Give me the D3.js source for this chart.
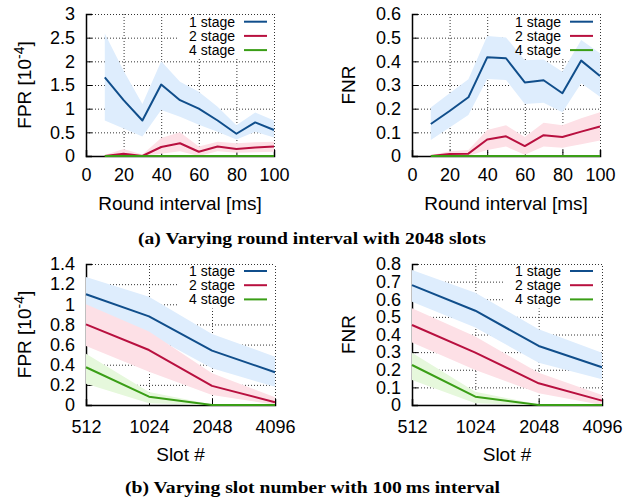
<!DOCTYPE html>
<html><head><meta charset="utf-8">
<script src="https://cdn.jsdelivr.net/npm/d3@7"></script>
<style>body{margin:0;background:#fff}svg{display:block}</style>
</head><body>
<svg id="c" width="626" height="501"></svg>
<script>
// ---------- data ----------
const seriesNames = ["1 stage", "2 stage", "4 stage"];

const roundX = [10, 20, 30, 40, 50, 60, 70, 80, 90, 100];
const roundTicks = [0, 20, 40, 60, 80, 100];

const fprR1   = [1.66, 1.18, 0.75, 1.51, 1.18, 1.00, 0.75, 0.47, 0.71, 0.55];
const fprR1Hi = [2.59, 1.80, 1.10, 2.00, 1.57, 1.36, 1.04, 0.65, 0.92, 0.75];
const fprR1Lo = [0.75, 0.58, 0.41, 0.97, 0.83, 0.66, 0.51, 0.35, 0.51, 0.39];
const fprR2   = [0, 0.05, 0, 0.19, 0.27, 0.09, 0.20, 0.15, 0.18, 0.20];
const fprR2Hi = [0.02, 0.15, 0.03, 0.38, 0.50, 0.20, 0.30, 0.27, 0.29, 0.30];
const fprR2Lo = [0, 0, 0, 0.05, 0.10, 0, 0.10, 0.07, 0.08, 0.09];
const fprR4   = [0, 0, 0, 0, 0, 0, 0, 0, 0, 0];
const fprR4Hi = [0, 0, 0, 0, 0, 0, 0, 0, 0, 0];
const fprR4Lo = [0, 0, 0, 0, 0, 0, 0, 0, 0, 0];
const fprRTicks = [0, 0.5, 1, 1.5, 2, 2.5, 3];

const fnrR1   = [0.135, 0.19, 0.248, 0.417, 0.413, 0.311, 0.32, 0.265, 0.403, 0.338];
const fnrR1Hi = [0.205, 0.265, 0.324, 0.507, 0.501, 0.405, 0.408, 0.356, 0.49, 0.434];
const fnrR1Lo = [0.068, 0.12, 0.173, 0.325, 0.321, 0.22, 0.225, 0.185, 0.307, 0.25];
const fnrR2   = [0, 0.008, 0.01, 0.07, 0.083, 0.042, 0.088, 0.08, 0.103, 0.125];
const fnrR2Hi = [0.003, 0.02, 0.025, 0.11, 0.13, 0.08, 0.14, 0.13, 0.16, 0.185];
const fnrR2Lo = [0, 0, 0, 0.025, 0.04, 0.005, 0.04, 0.035, 0.05, 0.065];
const fnrR4   = [0, 0, 0, 0, 0, 0, 0, 0, 0, 0];
const fnrR4Hi = [0, 0, 0, 0, 0, 0, 0, 0, 0, 0];
const fnrR4Lo = [0, 0, 0, 0, 0, 0, 0, 0, 0, 0];
const fnrRTicks = [0, 0.1, 0.2, 0.3, 0.4, 0.5, 0.6];

const slotX = [512, 1024, 2048, 4096];

const fprS1   = [1.10, 0.88, 0.54, 0.325];
const fprS1Hi = [1.27, 1.075, 0.705, 0.48];
const fprS1Lo = [0.95, 0.705, 0.365, 0.18];
const fprS2   = [0.80, 0.546, 0.19, 0.027];
const fprS2Hi = [1.0, 0.73, 0.315, 0.076];
const fprS2Lo = [0.585, 0.33, 0.10, 0.003];
const fprS4   = [0.375, 0.083, 0, 0];
const fprS4Hi = [0.51, 0.13, 0.005, 0];
const fprS4Lo = [0.21, 0.017, 0, 0];
const fprSTicks = [0, 0.2, 0.4, 0.6, 0.8, 1, 1.2, 1.4];

const fnrS1   = [0.68, 0.535, 0.335, 0.214];
const fnrS1Hi = [0.766, 0.637, 0.43, 0.297];
const fnrS1Lo = [0.586, 0.44, 0.24, 0.146];
const fnrS2   = [0.454, 0.297, 0.123, 0.025];
const fnrS2Hi = [0.549, 0.388, 0.183, 0.057];
const fnrS2Lo = [0.354, 0.199, 0.066, 0];
const fnrS4   = [0.227, 0.047, 0, 0];
const fnrS4Hi = [0.297, 0.075, 0.003, 0];
const fnrS4Lo = [0.142, 0.01, 0, 0];
const fnrSTicks = [0, 0.1, 0.2, 0.3, 0.4, 0.5, 0.6, 0.7, 0.8];

const captionA = "(a) Varying round interval with 2048 slots";
const captionB = "(b) Varying slot number with 100\u2009ms interval";

// ---------- styling ----------
const lineColors = ["#104e8b", "#b8103f", "#3a9e16"];
const bandColors = ["#deedfd", "#fde0e6", "#e6f8dc"];
const SANS = "'Liberation Sans', Arial, Helvetica, sans-serif";

const svg = d3.select("#c");

function panel(p) {
  const g = svg.append("g").attr("font-family", SANS);
  const x = (p.log ? d3.scaleLog().base(2) : d3.scaleLinear()).domain(p.xDomain).range([p.left, p.right]);
  const y = d3.scaleLinear().domain(p.yDomain).range([p.bottom, p.top]);
  const W = p.right - p.left, H = p.bottom - p.top;

  // grid
  const gx = g.append("g").attr("transform", `translate(0,${p.bottom})`)
    .call(d3.axisBottom(x).tickValues(p.xTicks.filter(t => t !== p.xDomain[0])).tickSize(-H).tickFormat(""));
  const gy = g.append("g").attr("transform", `translate(${p.left},0)`)
    .call(d3.axisLeft(y).tickValues(p.yTicks.filter(t => t !== 0)).tickSize(-W).tickFormat(""));
  [gx, gy].forEach(a => {
    a.select(".domain").remove();
    a.selectAll("line").attr("stroke", "#333").attr("stroke-width", 1).attr("stroke-dasharray", "1,2");
  });

  // opaque key box (drawn before the data, like gnuplot)
  g.append("rect").attr("x", p.legX - 58).attr("y", p.top + 1.5)
    .attr("width", p.right - 1 - (p.legX - 58)).attr("height", 43).attr("fill", "#fff");

  // axes (left & bottom, inward ticks)
  const ax = g.append("g").attr("transform", `translate(0,${p.bottom})`)
    .call(d3.axisBottom(x).tickValues(p.xTicks).tickSize(-6).tickPadding(p.xPad).tickFormat(d => String(d)));
  const ay = g.append("g").attr("transform", `translate(${p.left},0)`)
    .call(d3.axisLeft(y).tickValues(p.yTicks).tickSize(-6).tickPadding(11).tickFormat(d => String(+d.toFixed(2))));
  [ax, ay].forEach(a => {
    a.select(".domain").attr("stroke", "#000").attr("stroke-width", 1.5);
    a.selectAll(".tick line").attr("stroke", "#000").attr("stroke-width", 1);
    a.selectAll("text").attr("font-size", 18).attr("fill", "#000").attr("font-family", SANS);
  });

  // bands
  const area = d3.area().x(d => x(d.x)).y0(d => y(d.lo)).y1(d => y(d.hi));
  const line = d3.line().x(d => x(d.x)).y(d => y(d.v));
  p.series.forEach((s, i) => {
    const pts = p.xs.map((xv, k) => ({x: xv, v: s.v[k], lo: s.lo[k], hi: s.hi[k]}));
    g.append("path").datum(pts).attr("d", area).attr("fill", bandColors[i]).attr("stroke", "none");
  });
  p.series.forEach((s, i) => {
    const pts = p.xs.map((xv, k) => ({x: xv, v: s.v[k]}));
    g.append("path").datum(pts).attr("d", line).attr("fill", "none")
      .attr("stroke", lineColors[i]).attr("stroke-width", 2).attr("stroke-linejoin", "round");
  });

  // legend
  seriesNames.forEach((n, i) => {
    const yy = p.legY + i * 14.2;
    g.append("text").attr("x", p.legX).attr("y", yy).attr("dy", "0.35em")
      .attr("text-anchor", "end").attr("font-size", 14).attr("fill", "#000").text(n);
    g.append("line").attr("x1", p.legX + 9).attr("x2", p.legX + 32).attr("y1", yy).attr("y2", yy)
      .attr("stroke", lineColors[i]).attr("stroke-width", 2);
  });

  // axis titles
  g.append("text").attr("x", (p.left + p.right) / 2).attr("y", p.xTitleY)
    .attr("text-anchor", "middle").attr("font-size", 19).attr("fill", "#000").text(p.xTitle);
  const yt = g.append("text")
    .attr("transform", `translate(${p.yTitleX},${(p.top + p.bottom) / 2}) rotate(-90)`)
    .attr("text-anchor", "middle").attr("font-size", 19).attr("fill", "#000");
  if (p.yTitleSup) {
    yt.append("tspan").text(p.yTitle);
    yt.append("tspan").attr("dy", -7).attr("font-size", 14).text(p.yTitleSup);
    yt.append("tspan").attr("dy", 7).text("]");
  } else {
    yt.text(p.yTitle);
  }
}

panel({left: 86, right: 274, top: 14, bottom: 156, xDomain: [0, 100], yDomain: [0, 3],
  xTicks: roundTicks, yTicks: fprRTicks, xs: roundX, xPad: 12.5,
  series: [{v: fprR1, lo: fprR1Lo, hi: fprR1Hi}, {v: fprR2, lo: fprR2Lo, hi: fprR2Hi}, {v: fprR4, lo: fprR4Lo, hi: fprR4Hi}],
  legX: 235, legY: 21.7, xTitle: "Round interval [ms]", xTitleY: 209.5,
  yTitle: "FPR [10", yTitleSup: "-4", yTitleX: 31});

panel({left: 412, right: 600, top: 14, bottom: 156, xDomain: [0, 100], yDomain: [0, 0.6],
  xTicks: roundTicks, yTicks: fnrRTicks, xs: roundX, xPad: 12.5,
  series: [{v: fnrR1, lo: fnrR1Lo, hi: fnrR1Hi}, {v: fnrR2, lo: fnrR2Lo, hi: fnrR2Hi}, {v: fnrR4, lo: fnrR4Lo, hi: fnrR4Hi}],
  legX: 561, legY: 21.7, xTitle: "Round interval [ms]", xTitleY: 209.5,
  yTitle: "FNR", yTitleX: 355});

panel({left: 86, right: 275, top: 264, bottom: 405, xDomain: [512, 4096], yDomain: [0, 1.4], log: true,
  xTicks: slotX, yTicks: fprSTicks, xs: slotX, xPad: 15,
  series: [{v: fprS1, lo: fprS1Lo, hi: fprS1Hi}, {v: fprS2, lo: fprS2Lo, hi: fprS2Hi}, {v: fprS4, lo: fprS4Lo, hi: fprS4Hi}],
  legX: 235, legY: 271, xTitle: "Slot #", xTitleY: 460.5,
  yTitle: "FPR [10", yTitleSup: "-4", yTitleX: 31});

panel({left: 412, right: 602, top: 264, bottom: 405, xDomain: [512, 4096], yDomain: [0, 0.8], log: true,
  xTicks: slotX, yTicks: fnrSTicks, xs: slotX, xPad: 15,
  series: [{v: fnrS1, lo: fnrS1Lo, hi: fnrS1Hi}, {v: fnrS2, lo: fnrS2Lo, hi: fnrS2Hi}, {v: fnrS4, lo: fnrS4Lo, hi: fnrS4Hi}],
  legX: 561, legY: 271, xTitle: "Slot #", xTitleY: 460.5,
  yTitle: "FNR", yTitleX: 355});

// captions
const SERIF = "'Liberation Serif', 'Times New Roman', serif";
svg.append("text").attr("x", 312).attr("y", 243.5).attr("text-anchor", "middle")
  .attr("font-family", SERIF).attr("font-weight", "bold").attr("font-size", 16)
  .attr("textLength", 348).attr("lengthAdjust", "spacingAndGlyphs").attr("fill", "#000").text(captionA);
svg.append("text").attr("x", 312.5).attr("y", 492.5).attr("text-anchor", "middle")
  .attr("font-family", SERIF).attr("font-weight", "bold").attr("font-size", 16)
  .attr("textLength", 375).attr("lengthAdjust", "spacingAndGlyphs").attr("fill", "#000").text(captionB);
</script>
</body></html>
